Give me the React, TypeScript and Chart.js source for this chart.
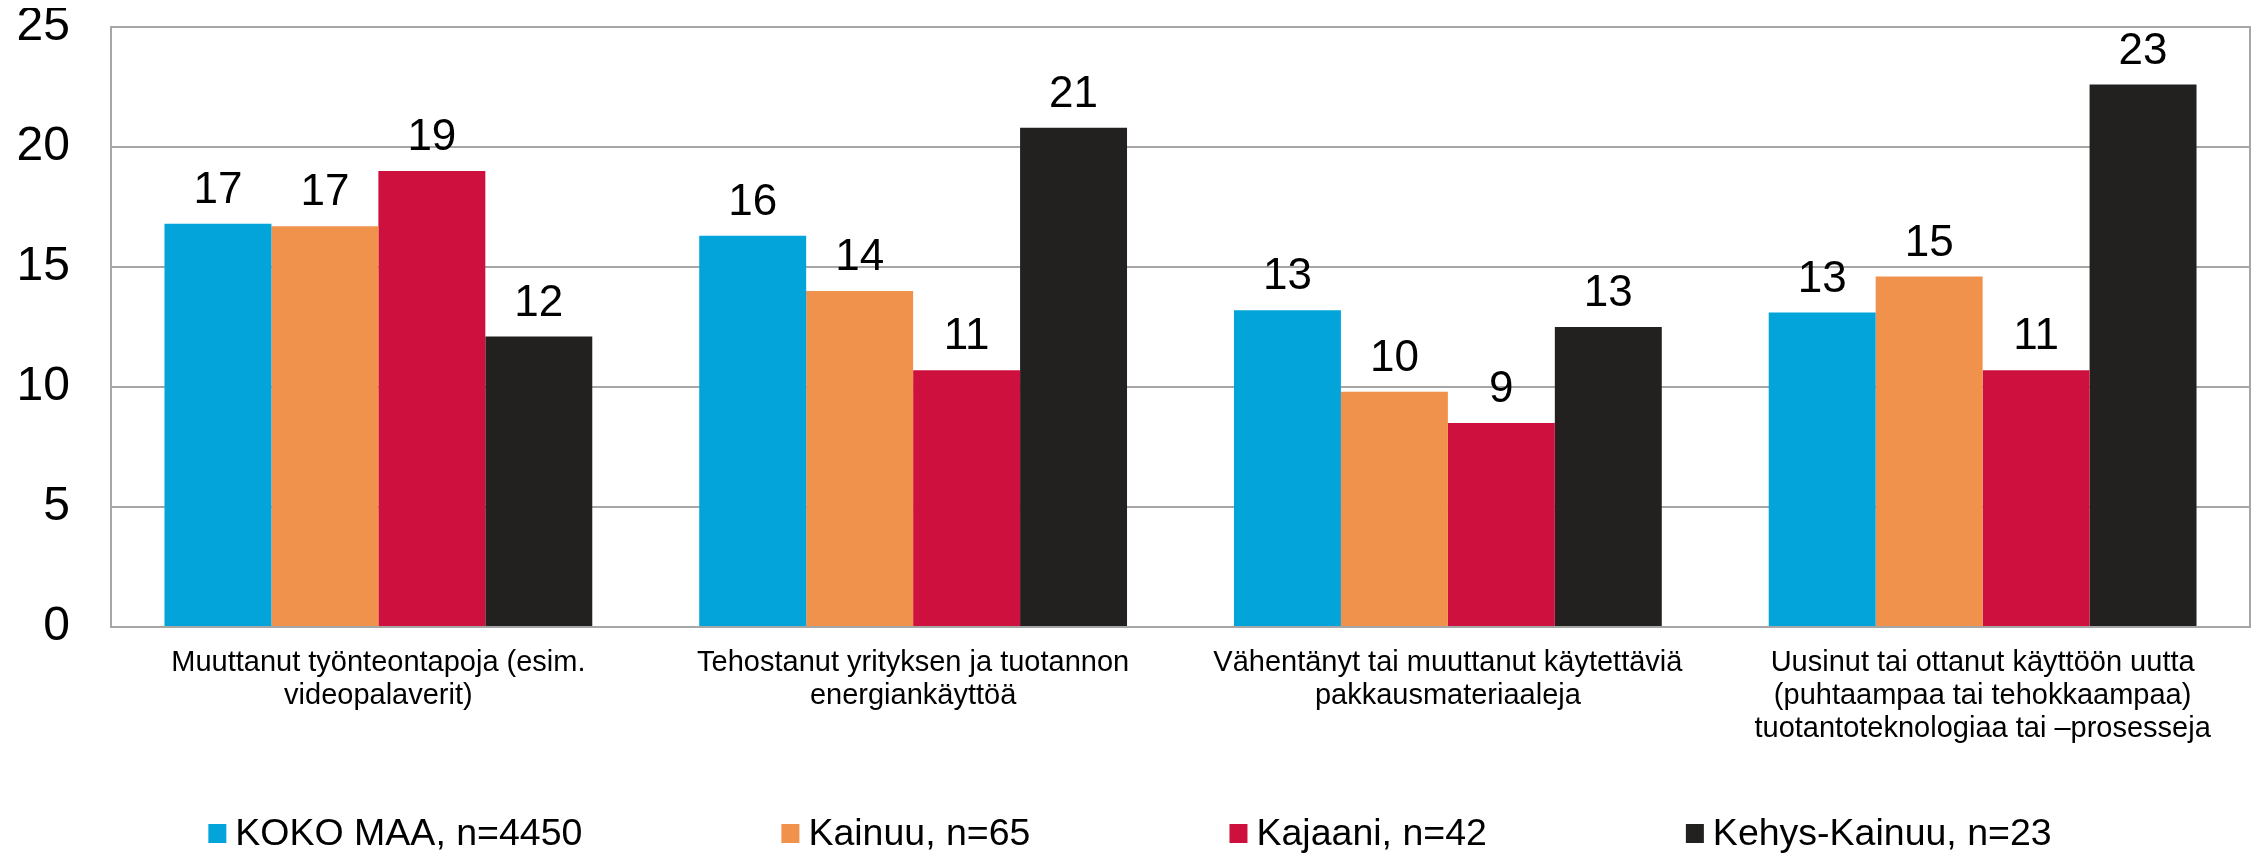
import React, { useEffect, useRef } from "react";
import { Chart, registerables } from "chart.js";

Chart.register(...registerables);

const categories: string[][] = [
  ["Muuttanut työnteontapoja (esim.", "videopalaverit)"],
  ["Tehostanut yrityksen ja tuotannon", "energiankäyttöä"],
  ["Vähentänyt tai muuttanut käytettäviä", "pakkausmateriaaleja"],
  ["Uusinut tai ottanut käyttöön uutta", "(puhtaampaa tai tehokkaampaa)", "tuotantoteknologiaa tai –prosesseja"],
];

const seriesNames = ["KOKO MAA, n=4450", "Kainuu, n=65", "Kajaani, n=42", "Kehys-Kainuu, n=23"];
const kokoMaa = [16.8, 16.3, 13.2, 13.1];
const kainuu = [16.7, 14.0, 9.8, 14.6];
const kajaani = [19.0, 10.7, 8.5, 10.7];
const kehysKainuu = [12.1, 20.8, 12.5, 22.6];
const seriesColors = ["#02A4D9", "#F0914C", "#CE103E", "#222120"];
const yTicks = [0, 5, 10, 15, 20, 25];

const FONT = "'Liberation Sans', Arial, sans-serif";
const GRID = "#a6a6a6";

const valueLabels = {
  id: "valueLabels",
  afterDatasetsDraw(chart: any) {
    const ctx = chart.ctx;
    ctx.save();
    ctx.fillStyle = "#000";
    ctx.font = `44px ${FONT}`;
    ctx.textAlign = "center";
    ctx.textBaseline = "alphabetic";
    chart.data.datasets.forEach((ds: any, i: number) => {
      const meta = chart.getDatasetMeta(i);
      meta.data.forEach((bar: any, j: number) => {
        ctx.fillText(String(Math.round(ds.data[j])), bar.x, bar.y - 21);
      });
    });
    ctx.restore();
  },
};

const customLegend = {
  id: "customLegend",
  afterDraw(chart: any) {
    const ctx = chart.ctx;
    ctx.save();
    ctx.font = `37.5px ${FONT}`;
    ctx.textBaseline = "alphabetic";
    ctx.textAlign = "left";
    const boxW = 18, boxH = 19, boxGap = 9, itemGap = 199;
    const items = chart.data.datasets.map((ds: any) => ({
      label: ds.label,
      color: ds.backgroundColor,
      w: ctx.measureText(ds.label).width,
    }));
    const total = items.reduce((s: number, it: any) => s + boxW + boxGap + it.w, 0) + itemGap * (items.length - 1);
    let x = chart.width / 2 - total / 2;
    const baseline = chart.chartArea.bottom + 218;
    items.forEach((it: any) => {
      ctx.fillStyle = it.color;
      ctx.fillRect(x, baseline - 21, boxW, boxH);
      x += boxW + boxGap;
      ctx.fillStyle = "#000";
      ctx.fillText(it.label, x, baseline);
      x += it.w + itemGap;
    });
    ctx.restore();
  },
};

export default function App() {
  const ref = useRef<HTMLCanvasElement | null>(null);
  useEffect(() => {
    document.body.style.overflow = "hidden";
    const canvas = ref.current;
    if (!canvas) return;
    const allSeries = [kokoMaa, kainuu, kajaani, kehysKainuu];
    const chart = new Chart(canvas, {
      type: "bar",
      data: {
        labels: categories,
        datasets: allSeries.map((d, i) => ({
          label: seriesNames[i],
          data: d,
          backgroundColor: seriesColors[i],
          borderWidth: 0,
          categoryPercentage: 0.8,
          barPercentage: 1.0,
        })),
      },
      options: {
        responsive: true,
        maintainAspectRatio: false,
        animation: false,
        layout: { padding: { top: 19, right: 2, left: 0, bottom: 0 } },
        plugins: { legend: { display: false }, tooltip: { enabled: false } },
        scales: {
          x: {
            grid: { display: false, drawTicks: false },
            border: { display: true, color: GRID, width: 2 },
            ticks: {
              font: { family: FONT, size: 29, lineHeight: "33px" },
              color: "#000",
              padding: 19,
              maxRotation: 0,
              autoSkip: false,
            },
            afterFit(scale: any) {
              scale.height = 226;
              scale.paddingLeft = 0;
              scale.paddingRight = 0;
            },
          },
          y: {
            min: 0,
            max: 25,
            afterBuildTicks(scale: any) {
              scale.ticks = yTicks.map((v) => ({ value: v }));
            },
            grid: { color: GRID, lineWidth: 2, drawTicks: false },
            border: { display: true, color: GRID, width: 2 },
            ticks: {
              font: { family: FONT, size: 48 },
              color: "#000",
              padding: 41,
            },
            afterFit(scale: any) {
              scale.width = 103;
              scale.paddingTop = 0;
              scale.paddingBottom = 0;
            },
          },
          y2: {
            position: "right",
            min: 0,
            max: 25,
            grid: { display: false, drawTicks: false },
            border: { display: true, color: GRID, width: 2 },
            ticks: { display: false },
            afterFit(scale: any) {
              scale.width = 0;
              scale.paddingTop = 0;
              scale.paddingBottom = 0;
            },
          },
        },
      },
      plugins: [valueLabels, customLegend],
    });
    return () => chart.destroy();
  }, []);
  return (
    <div style={{ width: 2244, height: 845, position: "relative" }}>
      <canvas ref={ref} />
    </div>
  );
}
